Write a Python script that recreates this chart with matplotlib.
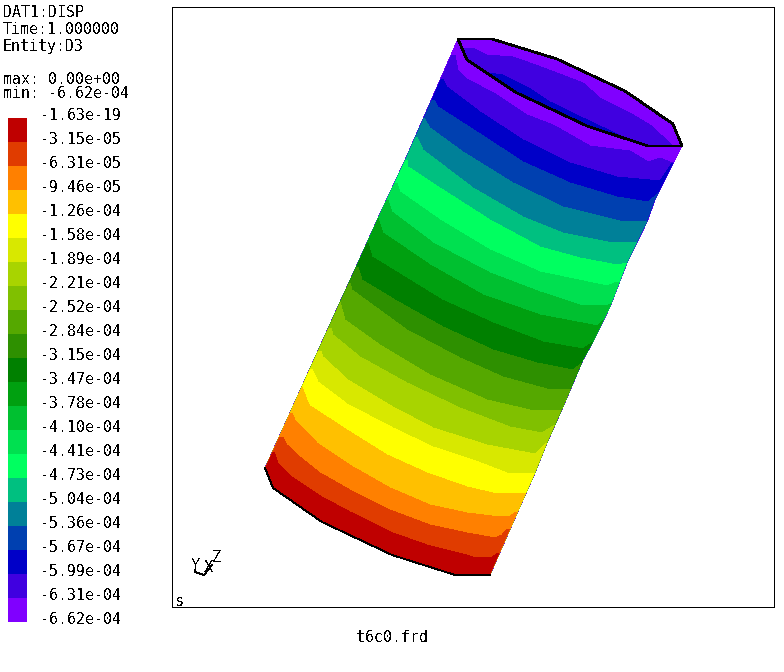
import matplotlib
matplotlib.use("Agg")
import matplotlib.pyplot as plt
from matplotlib.patches import Polygon, Rectangle

plt.rcParams['font.family'] = ['DejaVu Sans Mono']
plt.rcParams['text.antialiased'] = False

levels = ["-1.63e-19", "-3.15e-05", "-6.31e-05", "-9.46e-05", "-1.26e-04", "-1.58e-04",
          "-1.89e-04", "-2.21e-04", "-2.52e-04", "-2.84e-04", "-3.15e-04", "-3.47e-04",
          "-3.78e-04", "-4.10e-04", "-4.41e-04", "-4.73e-04", "-5.04e-04", "-5.36e-04",
          "-5.67e-04", "-5.99e-04", "-6.31e-04", "-6.62e-04"]
band_colors = ["#bf0000", "#e03c00", "#ff8000", "#ffc000", "#ffff00", "#d8e800", "#a8d400",
               "#80c000", "#55a800", "#2e9000", "#008000", "#00a010", "#00c030", "#00e050",
               "#00ff60", "#00c080", "#008098", "#0040b0", "#0000c8", "#4000e0", "#8000ff"]
header = ["DAT1:DISP", "Time:1.000000", "Entity:D3"]
max_label = "max: 0.00e+00"
min_label = "min: -6.62e-04"
file_label = "t6c0.frd"

# deformed cylinder outline in screen pixels
outline = [(265, 468), (273, 488), (322, 522), (392, 555), (455, 575), (490, 575), (523, 500),
           (535, 473), (547, 443), (563, 407), (583, 360), (593, 342), (610, 307), (627, 263),
           (647, 222), (655, 200), (682, 146), (673, 124), (625, 91), (557, 59), (492, 39),
           (458, 39), (430, 103), (405, 160), (378, 218), (356, 267), (340, 302)]
rim = [(458, 39), (492, 39), (557, 59), (625, 91), (673, 124), (682, 146), (648, 146),
       (587, 126), (517, 93), (467, 60)]
rim_mid = [(463, 48), (473, 48), (487, 55), (513, 57), (530, 63), (557, 73), (583, 83),
           (600, 98), (630, 113), (650, 125), (672, 145), (648, 146), (587, 126), (517, 93), (467, 60)]
rim_low = [(488, 73), (503, 75), (527, 87), (550, 102), (583, 118), (623, 137), (587, 126), (517, 93)]

# contour lines between neighbouring colours, bottom band first
b1 = [(274, 452), (278, 463), (292, 477), (322, 497), (350, 512), (393, 533), (427, 545), (463, 554), (473, 557), (492, 557), (498, 553)]
b2 = [(283, 437), (287, 445), (300, 457), (320, 473), (350, 490), (390, 510), (430, 525), (467, 533), (495, 538), (502, 535), (507, 529)]
b3 = [(292, 413), (295, 420), (317, 443), (353, 467), (390, 488), (430, 505), (467, 513), (492, 516), (510, 516), (516, 512)]
b4 = [(302, 387), (307, 400), (310, 406), (347, 430), (387, 455), (427, 473), (467, 487), (493, 493), (525, 493)]
b5 = [(312, 369), (318, 382), (347, 404), (393, 428), (433, 447), (473, 460), (507, 473), (535, 473)]
b6 = [(321, 351), (323, 357), (348, 380), (393, 407), (433, 428), (487, 445), (535, 454), (547, 443)]
b7 = [(331, 328), (333, 335), (360, 357), (407, 383), (460, 408), (510, 427), (542, 433), (555, 425)]
b8 = [(340, 302), (345, 320), (380, 345), (430, 375), (487, 400), (530, 410), (562, 410), (573, 385)]
b9 = [(350, 283), (352, 290), (407, 330), (460, 358), (503, 377), (547, 389), (572, 389), (580, 370)]
b10 = [(358, 267), (362, 280), (395, 300), (443, 327), (493, 350), (537, 363), (573, 370), (582, 363)]
b11 = [(368, 243), (372, 257), (442, 300), (493, 323), (543, 342), (583, 349), (593, 342)]
b12 = [(378, 218), (383, 233), (430, 265), (483, 295), (540, 315), (598, 326), (603, 320)]
b13 = [(388, 200), (392, 212), (433, 243), (490, 273), (540, 292), (580, 305), (607, 306), (612, 303)]
b14 = [(397, 183), (400, 192), (440, 220), (490, 250), (540, 272), (607, 286), (617, 282)]
b15 = [(407, 160), (408, 167), (440, 188), (490, 220), (540, 247), (580, 258), (617, 265), (627, 263)]
b16 = [(417, 137), (423, 150), (473, 188), (523, 217), (563, 233), (608, 242), (638, 242)]
b17 = [(424, 118), (430, 128), (463, 152), (513, 183), (563, 207), (620, 221), (647, 221)]
b18 = [(434, 100), (438, 107), (477, 132), (523, 162), (570, 183), (617, 197), (648, 202), (660, 192)]
b19 = [(443, 79), (447, 87), (480, 112), (523, 140), (570, 163), (617, 177), (660, 181), (672, 163)]
b20 = [(455, 55), (458, 70), (467, 79), (497, 95), (527, 115), (553, 125), (590, 146), (630, 151), (648, 162), (660, 158), (670, 162)]
contours = [b1, b2, b3, b4, b5, b6, b7, b8, b9, b10, b11, b12, b13, b14, b15, b16, b17, b18, b19, b20]

# triad in the lower left corner
triad_y = [(195, 570), (195, 572), (204, 575)]
triad_z = [(204, 575), (212, 565)]

fig = plt.figure(figsize=(7.84, 6.72), dpi=100)
ax = fig.add_axes([0, 0, 1, 1])
ax.set_xlim(0, 784)
ax.set_ylim(672, 0)
ax.axis("off")

ax.add_patch(Rectangle((172.5, 6.5), 602, 600, fill=False, ec="black", lw=0.72, aa=False))

# top band is the whole cylinder, paint the others over it going down
body = Polygon(outline, closed=True, fc=band_colors[20], ec="none", aa=False, zorder=2)
ax.add_patch(body)
for i in range(19, -1, -1):
    line = contours[i]
    pts = [(0, 700), (0, line[0][1])] + line + [(784, line[-1][1]), (784, 700)]
    p = Polygon(pts, closed=True, fc=band_colors[i], ec="none", aa=False, zorder=3)
    ax.add_patch(p)
    p.set_clip_path(body)

ax.add_patch(Polygon(rim, closed=True, fc=band_colors[20], ec="none", aa=False, zorder=4))
ax.add_patch(Polygon(rim_mid, closed=True, fc=band_colors[19], ec="none", aa=False, zorder=5))
ax.add_patch(Polygon(rim_low, closed=True, fc=band_colors[18], ec="none", aa=False, zorder=6))
ax.add_patch(Polygon(rim, closed=True, fill=False, ec="black", lw=1.2, aa=False, zorder=7))
ax.plot(*zip(*outline[:6]), color="black", lw=0.6, aa=False, zorder=7)

# legend
for i, c in enumerate(band_colors):
    ax.add_patch(Rectangle((8, 118 + 24 * i), 19, 24, fc=c, ec="none", aa=False))
for i, s in enumerate(levels):
    ax.text(40, 115.5 + 24 * i, s, fontsize=10.7, va="center", ha="left")

for i, s in enumerate(header):
    ax.text(3, 12.5 + 17 * i, s, fontsize=10.7, va="center", ha="left")
ax.text(3, 80, max_label, fontsize=10.7, va="center", ha="left")
ax.text(3, 94, min_label, fontsize=10.7, va="center", ha="left")
ax.text(356, 637, file_label, fontsize=10.7, va="center", ha="left")

ax.text(175, 602, "s", fontsize=11, va="center", ha="left", zorder=8)
ax.text(212, 558, "Z", fontsize=11, va="center", ha="left")
ax.text(204, 568, "X", fontsize=11, va="center", ha="left")
ax.text(191, 566, "Y", fontsize=11, va="center", ha="left")
ax.plot(*zip(*triad_y), color="black", lw=0.6, aa=False)
ax.plot(*zip(*triad_z), color="black", lw=0.6, aa=False)

fig.savefig("out.png", dpi=100)
